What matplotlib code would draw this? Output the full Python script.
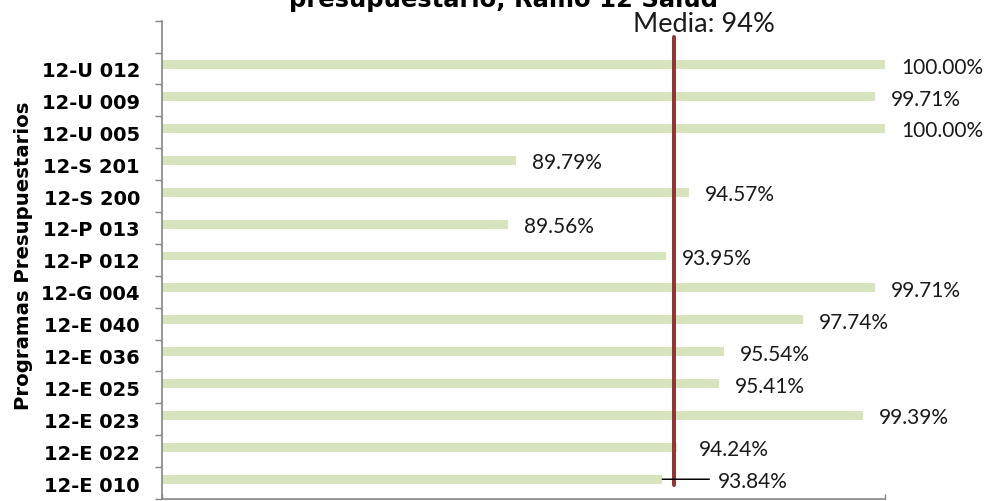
import matplotlib
matplotlib.use("Agg")
import matplotlib.pyplot as plt
import numpy as np

# ---- data ----
programas = ["12-E 010", "12-E 022", "12-E 023", "12-E 025", "12-E 036",
             "12-E 040", "12-G 004", "12-P 012", "12-P 013", "12-S 200",
             "12-S 201", "12-U 005", "12-U 009", "12-U 012"]
valores = [93.84, 94.24, 99.39, 95.41, 95.54, 97.74, 99.71, 93.95,
           89.56, 94.57, 89.79, 100.00, 99.71, 100.00]
media_valor = 94.17
media_texto = "Media: 94%"
titulo = "presupuestario, Ramo 12 Salud"
eje_y_texto = "Programas Presupuestarios"
x_limites = [80, 100]

W, H = 987, 502
fig = plt.figure(figsize=(W / 100, H / 100), dpi=100)
ax = fig.add_axes([162 / W, 2 / H, (885 - 162) / W, (500 - 21.7) / H])

PX = 72 / 100  # points per pixel
bar_col = "#D7E4BD"
axis_col = "#868686"
off = 0.12
y = np.arange(len(programas))

ax.barh(y + off, valores, height=0.28, color=bar_col, zorder=2)
ax.set_xlim(*x_limites)
ax.set_ylim(-0.5, len(programas) + 0.5)

# y axis
ax.set_yticks(y)
ax.set_yticklabels(programas, fontsize=14, fontweight="bold", family="DejaVu Sans")
ax.set_yticks(np.arange(-0.5, len(programas) + 1, 1), minor=True)
ax.tick_params(axis="y", which="major", length=0, pad=22 * PX)
ax.tick_params(axis="y", which="minor", length=7 * PX, width=1, color=axis_col)

# x axis
ax.set_xticks(x_limites)
ax.set_xticklabels(["", ""])
ax.tick_params(axis="x", which="major", direction="in", length=5 * PX, width=1, color=axis_col)

for s in ["top", "right"]:
    ax.spines[s].set_visible(False)
for s in ["left", "bottom"]:
    ax.spines[s].set_color(axis_col)
    ax.spines[s].set_linewidth(1.2)

ax.set_ylabel(eje_y_texto, fontsize=14.2, fontweight="bold", family="DejaVu Sans")
ax.yaxis.set_label_coords(-0.179, 0.51)

# mean line
ax.plot([media_valor, media_valor], [-0.06, len(programas)], color="#943634",
        lw=4 * PX, solid_capstyle="round", zorder=4, clip_on=False)
ax.annotate(media_texto, xy=(media_valor, len(programas)), xytext=(30 * PX, 6 * PX),
            textcoords="offset points", ha="center", va="baseline",
            fontsize=19.5, family="Lato", color="#1a1a1a", annotation_clip=False)

# value labels
for i, v in enumerate(valores):
    dx = 16
    if i == 1:
        dx = 22
    if i == 0:
        dx = 56
        ax.annotate("", xy=(v, i + off), xytext=(47 * PX, 0), textcoords="offset points",
                    arrowprops=dict(arrowstyle="-", color="black", lw=1.5 * PX,
                                    shrinkA=0, shrinkB=0), zorder=5)
    ax.annotate(f"{v:.2f}%", xy=(v, i + off), xytext=(dx * PX, 0),
                textcoords="offset points", ha="left", va="center_baseline",
                fontsize=15, family="Lato", color="#1a1a1a", annotation_clip=False)

# title (partly cut by the top edge, as in the reference)
fig.text(504 / W, 1 - 7 / H, titulo, ha="center", va="baseline",
         fontsize=17.5, fontweight="bold", family="DejaVu Sans")

fig.savefig("out.png", dpi=100)
